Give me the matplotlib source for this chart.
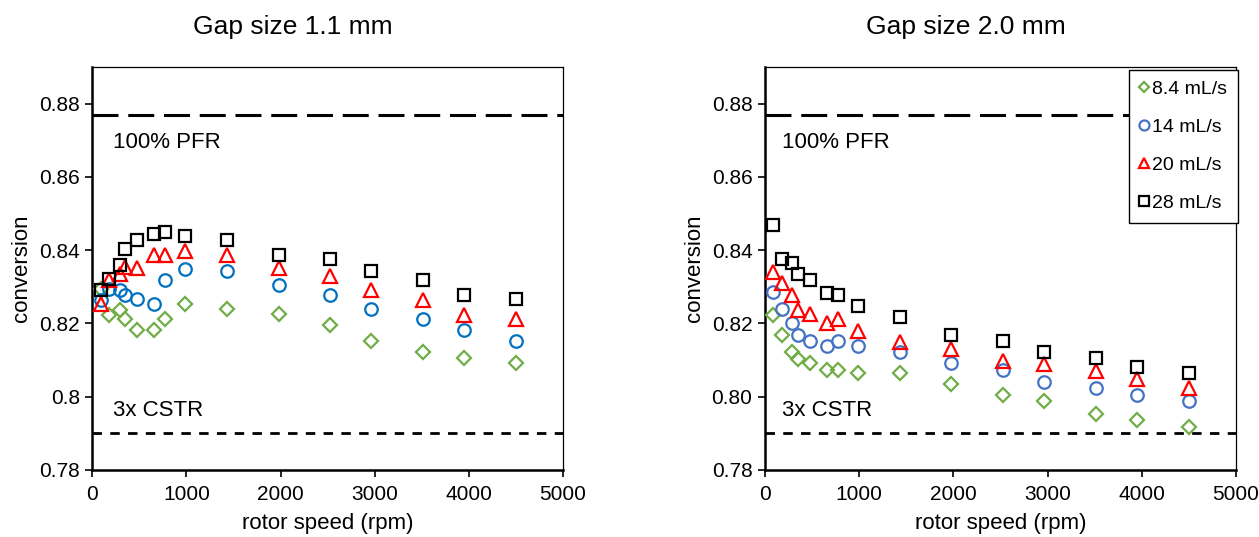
import numpy as np
import matplotlib
matplotlib.use("Agg")
import matplotlib.pyplot as plt

plt.rcParams['font.family'] = ['Liberation Sans', 'DejaVu Sans']

# rotor speeds (rpm), same for every series
rpm = [90, 180, 290, 350, 480, 660, 770, 990, 1430, 1980, 2530, 2960, 3510, 3950, 4500]

# gap size 1.1 mm
gap11_84 = [0.8295, 0.8224, 0.8236, 0.8211, 0.8182, 0.8182, 0.8211, 0.8253, 0.8240, 0.8225,
            0.8197, 0.8152, 0.8122, 0.8107, 0.8091]
gap11_14 = [0.8265, 0.8293, 0.8292, 0.8279, 0.8266, 0.8252, 0.8318, 0.8348, 0.8342, 0.8305,
            0.8279, 0.8240, 0.8211, 0.8182, 0.8152]
gap11_20 = [0.8254, 0.8318, 0.8336, 0.8354, 0.8351, 0.8388, 0.8388, 0.8397, 0.8386, 0.8351,
            0.8329, 0.8290, 0.8265, 0.8224, 0.8211]
gap11_28 = [0.8292, 0.8320, 0.8360, 0.8403, 0.8429, 0.8444, 0.8449, 0.8440, 0.8429, 0.8388,
            0.8376, 0.8342, 0.8318, 0.8279, 0.8267]

# gap size 2.0 mm
gap20_84 = [0.8222, 0.8168, 0.8122, 0.8104, 0.8092, 0.8072, 0.8072, 0.8065, 0.8065, 0.8034,
            0.8006, 0.7989, 0.7953, 0.7936, 0.7918]
gap20_14 = [0.8286, 0.8239, 0.8202, 0.8168, 0.8152, 0.8139, 0.8152, 0.8138, 0.8122, 0.8091,
            0.8072, 0.8041, 0.8024, 0.8006, 0.7989]
gap20_20 = [0.8340, 0.8310, 0.8277, 0.8238, 0.8225, 0.8201, 0.8211, 0.8180, 0.8150, 0.8129,
            0.8097, 0.8089, 0.8071, 0.8047, 0.8023]
gap20_28 = [0.8468, 0.8375, 0.8365, 0.8334, 0.8318, 0.8284, 0.8279, 0.8247, 0.8218, 0.8168,
            0.8152, 0.8122, 0.8106, 0.8081, 0.8066]

labels = ['8.4 mL/s', '14 mL/s', '20 mL/s', '28 mL/s']
pfr = 0.877
cstr = 0.790

yticks = [0.78, 0.80, 0.82, 0.84, 0.86, 0.88]
yticklabels_left = ['0.78', '0.8', '0.82', '0.84', '0.86', '0.88']
yticklabels_right = ['0.78', '0.80', '0.82', '0.84', '0.86', '0.88']
xticks = [0, 1000, 2000, 3000, 4000, 5000]

fig = plt.figure(figsize=(12.59, 5.37), dpi=100)
ax1 = fig.add_axes([0.0733, 0.1248, 0.3739, 0.7504])
ax2 = fig.add_axes([0.6076, 0.1248, 0.3741, 0.7504])


def draw(ax, series, blue, ylabels, txt_x):
    styles = [('D', '#70AD47', 7.0), ('o', blue, 9.0), ('^', '#FF0000', 9.5), ('s', 'black', 9.0)]
    for vals, (m, c, ms), lab in zip(series, styles, labels):
        ax.plot(rpm, vals, linestyle='none', marker=m, markersize=ms, markerfacecolor='none',
                markeredgecolor=c, markeredgewidth=1.6, label=lab, zorder=3)
    ax.axhline(pfr, color='black', lw=2.2, dashes=(8.5, 3.2), zorder=2)
    ax.axhline(cstr, color='black', lw=2.0, dashes=(3.4, 3.0), zorder=2)
    ax.text(txt_x, 0.8695, '100% PFR', fontsize=16, ha='left', va='center')
    ax.text(txt_x, 0.7963, '3x CSTR', fontsize=16, ha='left', va='center')
    ax.set_xlim(0, 5000)
    ax.set_ylim(0.78, 0.89)
    ax.set_xticks(xticks)
    ax.set_xticklabels([str(t) for t in xticks])
    ax.set_yticks(yticks)
    ax.set_yticklabels(ylabels)
    ax.tick_params(direction='out', length=5, width=1.2, labelsize=15, pad=4)
    ax.tick_params(axis='x', pad=6)
    ax.set_xlabel('rotor speed (rpm)', fontsize=16, labelpad=6)
    ax.set_ylabel('conversion', fontsize=16, labelpad=5)
    for s in ['left', 'bottom']:
        ax.spines[s].set_linewidth(1.8)
    for s in ['top', 'right']:
        ax.spines[s].set_linewidth(0.9)


draw(ax1, [gap11_84, gap11_14, gap11_20, gap11_28], '#0070C0', yticklabels_left, 220)
draw(ax2, [gap20_84, gap20_14, gap20_20, gap20_28], '#4472C4', yticklabels_right, 180)

leg = ax2.legend(loc='upper right', bbox_to_anchor=(1.004, 0.993), fontsize=14, frameon=True,
                 fancybox=False, edgecolor='black', framealpha=1, handlelength=0.5,
                 handletextpad=0.15, labelspacing=1.05, borderpad=0.55, borderaxespad=0,
                 markerscale=0.8)
leg.get_frame().set_linewidth(1.0)
leg.set_zorder(5)

fig.text(293 / 1259, 1 - 27 / 537, 'Gap size 1.1 mm', fontsize=19, ha='center', va='center')
fig.text(966 / 1259, 1 - 27 / 537, 'Gap size 2.0 mm', fontsize=19, ha='center', va='center')

fig.savefig('out.png', dpi=100)
